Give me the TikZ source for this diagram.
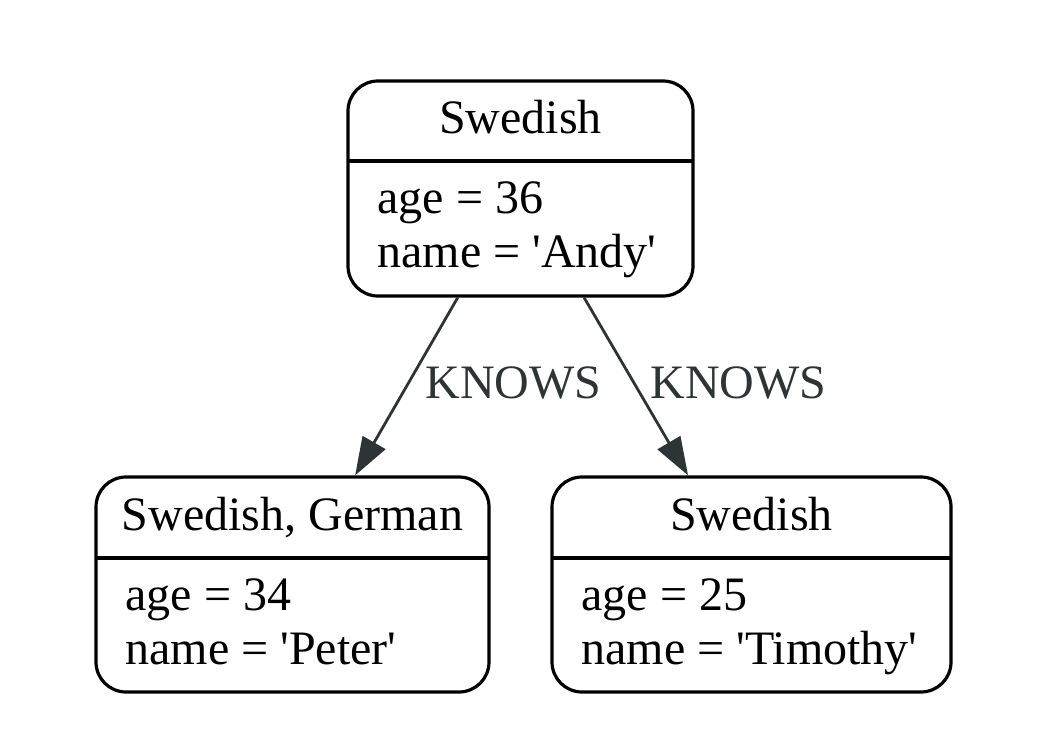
\documentclass[tikz,border=0pt]{standalone}
\usepackage{fontspec}
\setmainfont{Liberation Serif}
\usetikzlibrary{arrows.meta}
\definecolor{edgecol}{HTML}{2E3436}
\newcommand{\sqt}{\textquotesingle}
\tikzset{
  recbox/.style={draw=black, line width=1.6pt, rounded corners=15pt, inner sep=0pt},
  divider/.style={draw=black, line width=1.6pt},
  txt/.style={inner sep=0pt, font=\fontsize{24}{28.8}\selectfont, text=black},
  edgelbl/.style={inner sep=0pt, font=\fontsize{24}{28.8}\selectfont, text=edgecol, anchor=base west},
  edge/.style={draw=edgecol, line width=1.4pt, -{Triangle[length=19pt,width=13pt]}},
}
\begin{document}
\begin{tikzpicture}[x=0.5pt,y=-0.5pt]
\useasboundingbox (0,0) rectangle (1060,754);
% node A
\node[recbox, minimum width=172.5pt, minimum height=107.5pt] (a) at (520.5,188.5) {};
\draw[divider] (348,161) -- (693,161);
\node[txt, anchor=base] (ah) at (520.5,134) {Swedish};
\node[txt, anchor=base west] (a1) at (377,214) {age = 36};
\node[txt, anchor=base west] (a2) at (377,268) {name = \sqt Andy\sqt};
% node B
\node[recbox, minimum width=196.5pt, minimum height=107.5pt] (b) at (292.5,584.5) {};
\draw[divider] (96,558) -- (489,558);
\node[txt, anchor=base] (bh) at (292.5,530) {Swedish, German};
\node[txt, anchor=base west] (b1) at (125,610) {age = 34};
\node[txt, anchor=base west] (b2) at (125,664) {name = \sqt Peter\sqt};
% node C
\node[recbox, minimum width=199.5pt, minimum height=107.5pt] (c) at (751.5,584.5) {};
\draw[divider] (552,558) -- (951,558);
\node[txt, anchor=base] (ch) at (751.5,530) {Swedish};
\node[txt, anchor=base west] (c1) at (581,610) {age = 25};
\node[txt, anchor=base west] (c2) at (581,664) {name = \sqt Timothy\sqt};
% edges
\draw[edge] (a) -- (b);
\draw[edge] (a) -- (c);
\node[edgelbl] (l1) at (425,398) {KNOWS};
\node[edgelbl] (l2) at (650,398) {KNOWS};
\end{tikzpicture}
\end{document}
